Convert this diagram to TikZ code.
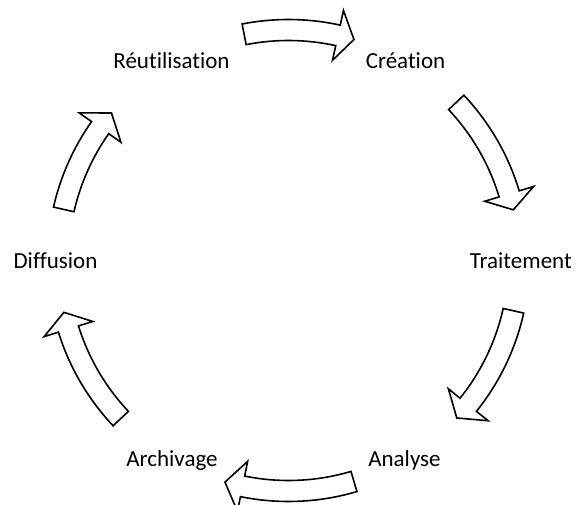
\documentclass[tikz,border=0pt]{standalone}
\usepackage{fontspec}
\setmainfont{Carlito}[Ligatures=CommonOff]
\newcommand{\cycarrow}[3]{%
  \draw[cyc] (#1:220) arc[start angle=#1, end angle=#2, radius=220]
    -- (#2:205) -- (#3:230.5) -- (#2:256) -- (#2:241)
    arc[start angle=#2, end angle=#1, radius=241] -- cycle;}
\begin{document}
\begin{tikzpicture}[x=1pt,y=1pt,
  lbl/.style={anchor=base, inner sep=0pt, font=\fontsize{23}{28}\selectfont},
  cyc/.style={draw=black, fill=white, line width=1.6pt, line join=miter}]
\useasboundingbox (0,0) rectangle (579,504);
\node[lbl] (reut) at (171.5,435.7) {Réutilisation};
\node[lbl] (crea) at (405.5,435.7) {Création};
\node[lbl] (trai) at (520.8,235.7) {Traitement};
\node[lbl] (anal) at (404.5,37.3) {Analyse};
\node[lbl] (arch) at (172,37.3) {Archivage};
\node[lbl] (diff) at (55.5,235.7) {Diffusion};
\begin{scope}[shift={(288.5,243.5)}]
  \coordinate (C) at (0,0);
  \cycarrow{101.1}{77.6}{73.5}
  \cycarrow{43.3}{16.8}{12.7}
  \cycarrow{-12.6}{-38.75}{-43.1}
  \cycarrow{-73.5}{-101.5}{-106}
  \cycarrow{-136.7}{-162.7}{-167}
  \cycarrow{167.2}{144.8}{140.2}
\end{scope}
\end{tikzpicture}
\end{document}
